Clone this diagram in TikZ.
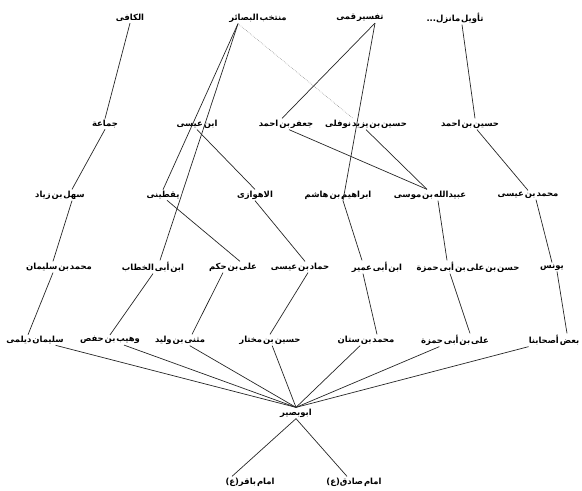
\documentclass[tikz,border=0pt]{standalone}
\usepackage{fontspec}
\usetikzlibrary{calc}
\TeXXeTstate=1
\newfontfamily\arabicfont[Script=Arabic,BoldFont={DejaVu Sans Bold}]{DejaVu Sans}
\newcommand{\rtltext}[1]{\spaceskip=0.8pt\relax\beginR #1\endR}
\tikzset{
  narrator/.style={font=\arabicfont\bfseries\fontsize{7.2}{9}\selectfont, inner sep=1pt},
  chain/.style={draw=black!85, line width=0.6pt},
  weak/.style={draw=black!45, densely dotted, line width=0.5pt}
}

\begin{document}
\begin{tikzpicture}[x=0.03cm, y=-0.03cm]
\useasboundingbox (0,0) rectangle (582,490);

% Books
\node[narrator] (kafi) at (130,18) {\rtltext{الکافی}};
\node[narrator] (montakhab) at (258,18) {\rtltext{منتخب البصائر}};
\node[narrator] (qomi) at (360,18) {\rtltext{تفسیر قمی}};
\node[narrator] (tawil) at (455,18) {\rtltext{تأویل مانزل\kern0pt...}};

% Second row
\node[narrator] (jamaa) at (105,124) {\rtltext{جماعة}};
\node[narrator] (ibnisa) at (197,124) {\rtltext{ابن عیسی}};
\node[narrator] (jafar) at (286,124) {\rtltext{جعفر بن احمد}};
\node[narrator] (nawfali) at (366,124) {\rtltext{حسین بن یزید نوفلی}};
\node[narrator] (husaynahmad) at (470,124) {\rtltext{حسین بن احمد}};

% Third row
\node[narrator] (sahl) at (60,195) {\rtltext{سهل بن زیاد}};
\node[narrator] (yaqtini) at (163,195) {\rtltext{یقطینی}};
\node[narrator] (ahwazi) at (255,195) {\rtltext{الاهوازی}};
\node[narrator] (ibrahim) at (338,195) {\rtltext{ابراهیم بن هاشم}};
\node[narrator] (ubaydallah) at (430,195) {\rtltext{عبیدالله بن موسی}};
\node[narrator] (mhisa) at (528,195) {\rtltext{محمد بن عیسی}};

% Fourth row
\node[narrator] (mhsulayman) at (59,267) {\rtltext{محمد بن سلیمان}};
\node[narrator] (ibnkhattab) at (153,267) {\rtltext{ابن أبی الخطاب}};
\node[narrator] (alihakam) at (233,267) {\rtltext{علی بن حکم}};
\node[narrator] (hammad) at (300,267) {\rtltext{حماد بن عیسی}};
\node[narrator] (ibnumayr) at (377,267) {\rtltext{ابن أبی عمیر}};
\node[narrator] (hasanali) at (468,267) {\rtltext{حسن بن علی بن أبی حمزة}};
\node[narrator] (yunus) at (552,267) {\rtltext{یونس}};

% Fifth row
\node[narrator] (daylami) at (35,340) {\rtltext{سلیمان دیلمی}};
\node[narrator] (wuhayb) at (110,340) {\rtltext{وهیب بن حفص}};
\node[narrator] (muthanna) at (180,340) {\rtltext{مثنی بن ولید}};
\node[narrator] (husaynmukhtar) at (270,340) {\rtltext{حسین بن مختار}};
\node[narrator] (mhsinan) at (366,340) {\rtltext{محمد بن ستان}};
\node[narrator] (aliabihamza) at (455,340) {\rtltext{علی بن أبی حمزة}};
\node[narrator] (baad) at (554,340) {\rtltext{بعض أصحابنا}};

% Abu Basir and the Imams
\node[narrator] (abubasir) at (296,413) {\rtltext{ابوبصیر}};
\node[narrator] (baqir) at (250,482) {\rtltext{امام باقر\kern0pt(ع)}};
\node[narrator] (sadiq) at (354,482) {\rtltext{امام صادق\kern0pt(ع)}};

% Chains from the books
\draw[chain] (kafi.south) -- (jamaa.north);
\draw[chain] (jamaa.south) -- ($(sahl.north)+(12,0)$);
\draw[chain] ($(sahl.south)+(12,0)$) -- ($(mhsulayman.north)+(-6,0)$);
\draw[chain] ($(mhsulayman.south)+(-6,0)$) -- ($(daylami.north)+(-7,0)$);

\draw[chain] ($(montakhab.south)+(-20,0)$) -- (yaqtini.north);
\draw[chain] ($(montakhab.south)+(-20,0)$) -- ($(ibnkhattab.north)+(7,0)$);
\draw[weak] ($(montakhab.south)+(-20,0)$) -- ($(nawfali.north)+(-13,0)$);
\draw[chain] (ibnisa.south) -- (ahwazi.north);
\draw[chain] ($(yaqtini.south)+(4,0)$) -- ($(alihakam.north)+(7,0)$);
\draw[chain] (ahwazi.south) -- ($(hammad.north)+(5,0)$);
\draw[chain] (ibnkhattab.south) -- (wuhayb.north);
\draw[chain] ($(alihakam.south)+(-10,0)$) -- ($(muthanna.north)+(12,0)$);
\draw[chain] ($(hammad.south)+(8,0)$) -- (husaynmukhtar.north);

\draw[chain] ($(qomi.south)+(15,0)$) -- ($(jafar.north)+(-4,0)$);
\draw[chain] ($(qomi.south)+(15,0)$) -- ($(ibrahim.south)+(5,0)$);
\draw[chain] ($(ibrahim.south)+(5,0)$) -- ($(ibnumayr.north)+(-15,0)$);
\draw[chain] ($(ibnumayr.south)+(-14,0)$) -- ($(mhsinan.north)+(11,0)$);
\draw[chain] ($(jafar.south)+(3,0)$) -- ($(ubaydallah.north)+(-3,0)$);
\draw[chain] (nawfali.south) -- ($(ubaydallah.north)+(-3,0)$);

\draw[chain] ($(tawil.south)+(7,0)$) -- ($(husaynahmad.north)+(5,0)$);
\draw[chain] ($(husaynahmad.south)+(7,0)$) -- (mhisa.north);
\draw[chain] ($(mhisa.south)+(8,0)$) -- (yunus.north);
\draw[chain] ($(ubaydallah.south)+(8,0)$) -- ($(hasanali.north)+(-21,0)$);
\draw[chain] ($(hasanali.south)+(-18,0)$) -- ($(aliabihamza.north)+(15,0)$);
\draw[chain] ($(yunus.south)+(5,0)$) -- ($(baad.north)+(13,0)$);

% Into Abu Basir
\foreach \src in {daylami,wuhayb,muthanna,husaynmukhtar,mhsinan,aliabihamza,baad}
  \draw[chain] (\src) -- (abubasir.north);
\draw[chain] (abubasir.south) -- ($(baqir.north)+(-18,0)$);
\draw[chain] (abubasir.south) -- ($(sadiq.north)+(-7,0)$);

\end{tikzpicture}
\end{document}
